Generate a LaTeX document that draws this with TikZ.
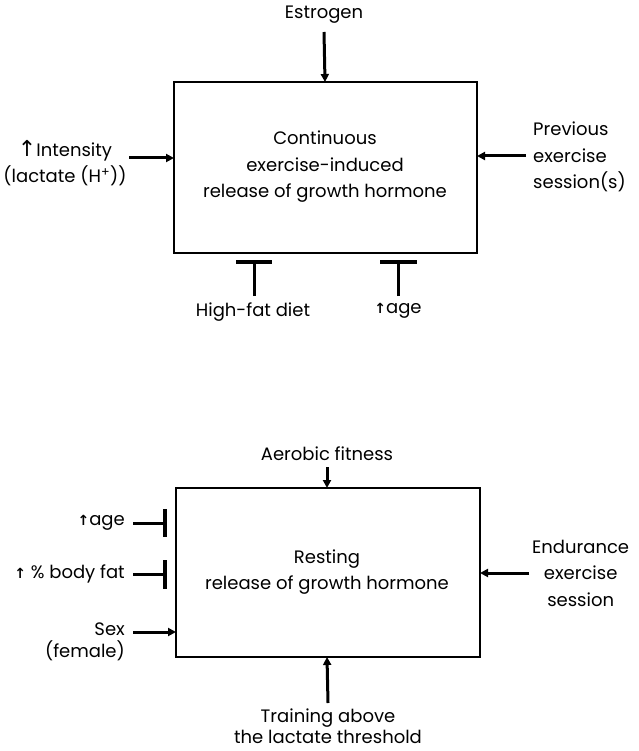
\documentclass[tikz,border=0pt]{standalone}
\usepackage{fontspec}
\setmainfont{Poppins}
\newfontfamily\symfont{DejaVu Sans}
\usetikzlibrary{arrows.meta}
\newcommand{\uparr}{{\symfont\bfseries\fontsize{14}{14}\selectfont ↑}}
\begin{document}
\begin{tikzpicture}[x=1pt,y=-1pt,
  lbl/.style={font=\fontsize{18}{26.5}\selectfont, inner sep=0pt, align=center},
  tight/.style={font=\fontsize{18}{21.5}\selectfont},
  panel/.style={draw, line width=1.8pt},
  push/.style={line width=3pt, -{Triangle[length=8pt,width=8pt]}},
  stem/.style={line width=3pt},
  bar/.style={line width=3.2pt}]
\useasboundingbox (0,0) rectangle (638,751);

% ---------- exercise-induced release ----------
\draw[panel] (174,82) rectangle (477,253);
\coordinate (b1n) at (325,82);
\coordinate (b1w) at (174,158);
\coordinate (b1e) at (477,156);
\node[lbl] (b1t) at (325,167) {Continuous\\exercise-induced\\release of growth hormone};

\node[lbl] (estr) at (324,15) {Estrogen};
\draw[push] (324,32) -- (b1n);

\node[lbl] (inten) at (65,163) {{\symfont\fontsize{22}{22}\selectfont ↑}Intensity\\(lactate (H\textsuperscript{+}))};
\draw[push] (129,158) -- (b1w);

\node[lbl, align=left, anchor=west] (prev) at (533,157) {Previous\\exercise\\session(s)};
\draw[push] (526,156) -- (b1e);

\coordinate (fat1) at (254,296);
\coordinate (age1) at (398,296);
\draw[stem] (fat1) -- (254,262);
\draw[bar] (236,262) -- (272,262);
\draw[stem] (age1) -- (398,262);
\draw[bar] (380,262) -- (417,262);
\node[lbl] (fatd) at (253,312) {High-fat diet};
\node[lbl] (agea) at (398,311) {\uparr age};

% ---------- resting release ----------
\draw[panel] (176,488) rectangle (480,657);
\coordinate (b2n) at (327,488);
\coordinate (b2s) at (327,657);
\coordinate (b2e) at (480,573);
\coordinate (b2w) at (176,632);
\node[lbl] (b2t) at (327,572) {Resting\\release of growth hormone};

\node[lbl] (aero) at (327,454) {Aerobic fitness};
\draw[push] (327,467) -- (b2n);

\node[lbl, anchor=east] (age2) at (125,523) {\uparr age};
\draw[stem] (133,523) -- (165,523);
\draw[bar] (165,509) -- (165,537);

\node[lbl, anchor=east] (bfat) at (125,574) {\uparr\ \% body fat};
\draw[stem] (133,574) -- (165,574);
\draw[bar] (165,560) -- (165,589);

\node[lbl, tight, align=right, anchor=east] (sexf) at (125,642) {Sex\\(female)};
\draw[push] (133,632) -- (b2w);

\node[lbl, anchor=west] (endu) at (532,573) {Endurance\\exercise\\session};
\draw[push] (529,573) -- (b2e);

\node[lbl, tight] (train) at (328,726) {Training above\\the lactate threshold};
\draw[push] (328,703) -- (b2s);
\end{tikzpicture}
\end{document}
